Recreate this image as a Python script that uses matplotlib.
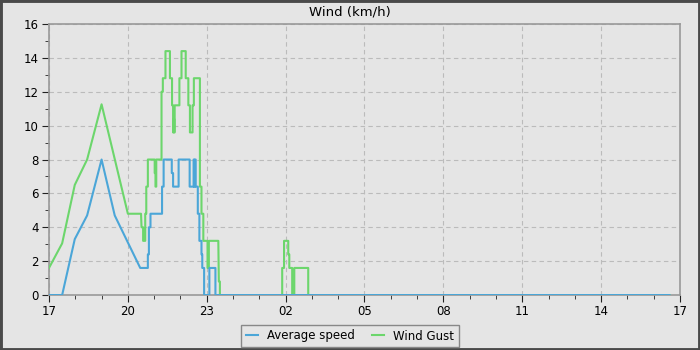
import matplotlib
matplotlib.use('Agg')
import matplotlib.pyplot as plt
from matplotlib.patches import Rectangle
from matplotlib.ticker import MultipleLocator

# -- hours since 17:00, duplicated hours give the vertical steps
avg_hours = [0, 0.5, 0.98, 1.45, 2.0, 2.5, 3.47, 3.76, 3.76, 3.80, 3.80, 3.86, 3.86,
             4.30, 4.30, 4.36, 4.36, 4.67, 4.67, 4.72, 4.72, 4.93, 4.93, 5.35, 5.35,
             5.50, 5.50, 5.52, 5.52, 5.55, 5.55, 5.58, 5.58, 5.66, 5.66, 5.72, 5.72,
             5.80, 5.80, 5.83, 5.83, 5.90, 5.90, 6.10, 6.10, 6.33, 6.33, 23.6]
avg_speed = [0, 0, 3.3, 4.7, 8.0, 4.7, 1.6, 1.6, 2.4, 2.4, 4.0, 4.0, 4.8,
             4.8, 6.4, 6.4, 8.0, 8.0, 7.2, 7.2, 6.4, 6.4, 8.0, 8.0, 6.4,
             6.4, 8.0, 8.0, 6.4, 6.4, 8.0, 8.0, 6.4, 6.4, 4.8, 4.8, 3.2,
             3.2, 2.4, 2.4, 1.6, 1.6, 0, 0, 1.6, 1.6, 0, 0]

gust_hours = [0, 0.5, 0.98, 1.45, 2.0, 3.0, 3.5, 3.52, 3.58, 3.58, 3.66, 3.66, 3.70, 3.70,
              3.76, 3.76, 4.02, 4.02, 4.05, 4.05, 4.08, 4.08, 4.28, 4.28, 4.33, 4.33,
              4.43, 4.43, 4.60, 4.60, 4.68, 4.68, 4.72, 4.72, 4.74, 4.74, 4.76, 4.76,
              4.78, 4.78, 4.96, 4.96, 5.04, 5.04, 5.20, 5.20, 5.30, 5.30, 5.36, 5.36,
              5.46, 5.46, 5.51, 5.51, 5.74, 5.74, 5.80, 5.80, 5.87, 5.87, 6.03, 6.03,
              6.08, 6.08, 6.44, 6.46, 6.50, 6.50,
              8.87, 8.87, 8.94, 8.94, 9.10, 9.10, 9.14, 9.14, 9.25, 9.25, 9.33, 9.33,
              9.86, 9.86, 23.6]
wind_gust = [1.6, 3.05, 6.5, 8.0, 11.26, 4.8, 4.8, 4.0, 4.0, 3.2, 3.2, 4.8, 4.8, 6.4,
             6.4, 8.0, 8.0, 7.2, 7.2, 6.4, 6.4, 8.0, 8.0, 12.0, 12.0, 12.8,
             12.8, 14.4, 14.4, 12.8, 12.8, 11.2, 11.2, 9.6, 9.6, 10.4, 10.4, 9.6,
             9.6, 11.2, 11.2, 12.8, 12.8, 14.4, 14.4, 12.8, 12.8, 11.2, 11.2, 9.6,
             9.6, 11.2, 11.2, 12.8, 12.8, 6.4, 6.4, 4.8, 4.8, 3.2, 3.2, 1.6,
             1.6, 3.2, 3.2, 0.8, 0.8, 0,
             0, 1.6, 1.6, 3.2, 3.2, 2.4, 2.4, 1.6, 1.6, 0, 0, 1.6,
             1.6, 0, 0]

hour_labels = ['17', '20', '23', '02', '05', '08', '11', '14', '17']

bg = '#e5e5e5'
blue = '#4ba6d8'
green = '#6cd66c'

fig = plt.figure(figsize=(7, 3.5), dpi=100, facecolor=bg)
ax = fig.add_axes([0.07, 0.157, 0.9014, 0.7744], facecolor=bg)

ax.plot(gust_hours, wind_gust, color=green, lw=1.5, label='Wind Gust', zorder=3)
ax.plot(avg_hours, avg_speed, color=blue, lw=1.5, label='Average speed', zorder=4)

ax.set_xlim(0, 24)
ax.set_ylim(0, 16)
ax.set_xticks(range(0, 25, 3))
ax.set_xticklabels(hour_labels)
ax.xaxis.set_minor_locator(MultipleLocator(1))
ax.yaxis.set_major_locator(MultipleLocator(2))
ax.yaxis.set_minor_locator(MultipleLocator(1))
ax.tick_params(which='major', length=5, labelsize=8.5, color='#222222', pad=2.5)
ax.tick_params(which='minor', length=3, color='#222222')
ax.grid(True, which='major', color='#bbbbbb', linestyle=(0, (4, 3)), lw=0.8)
for s in ax.spines.values():
    s.set_color('#999999')
    s.set_linewidth(1.2)

# -- title sits on the centre of the whole picture, not of the axes
fig.text(0.5, 0.965, 'Wind (km/h)', ha='center', va='center', fontsize=9.5)

# -- legend in the order of the original, avg speed first
h, l = ax.get_legend_handles_labels()
leg = fig.legend(h[::-1], l[::-1], loc='center', bbox_to_anchor=(0.5, 0.04), ncol=2,
                 fontsize=8.5, frameon=True, fancybox=False, handlelength=1.0,
                 columnspacing=1.4, borderpad=0.4, handletextpad=0.8)
leg.get_frame().set_facecolor(bg)
leg.get_frame().set_edgecolor('#888888')
leg.get_frame().set_linewidth(1.0)
leg.get_frame().set_alpha(1)

# -- dark frame round the whole picture
fig.patches.append(Rectangle((0, 0), 1, 1, transform=fig.transFigure, fill=False,
                             edgecolor='#4a4a4a', lw=3.5))

fig.savefig('out.png', dpi=100, facecolor=bg)
